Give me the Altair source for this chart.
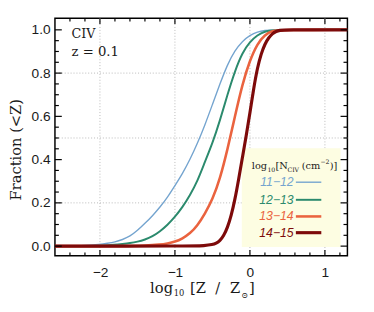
import altair as alt
import pandas as pd

# ---------------- data ----------------
SERIES = ["11−12", "12−13", "13−14", "14−15"]
COLORS = ["#74a4cf", "#2b8a6d", "#ea633f", "#7d0a0a"]
WIDTHS = [1.4, 2.0, 2.6, 3.2]

X_1112 = [-2.6, -2.4, -2.2, -2.0, -1.9, -1.8, -1.7, -1.6, -1.5, -1.4, -1.3, -1.2, -1.1,
          -1.0, -0.9, -0.8, -0.7, -0.6, -0.5, -0.4, -0.3, -0.2, -0.1, 0.0, 0.1, 0.2,
          0.3, 1.3]
Y_1112 = [0.0, 0.0, 0.003, 0.008, 0.013, 0.019, 0.03, 0.045, 0.072, 0.105, 0.14, 0.18,
          0.225, 0.28, 0.335, 0.40, 0.475, 0.56, 0.655, 0.75, 0.84, 0.905, 0.948, 0.975,
          0.991, 0.998, 1.0, 1.0]

X_1213 = [-2.6, -2.2, -2.0, -1.8, -1.7, -1.6, -1.5, -1.4, -1.3, -1.2, -1.1, -1.0, -0.9,
          -0.8, -0.7, -0.6, -0.5, -0.4, -0.3, -0.2, -0.1, 0.0, 0.1, 0.2, 0.3, 1.3]
Y_1213 = [0.0, 0.0, 0.002, 0.006, 0.01, 0.014, 0.02, 0.03, 0.045, 0.068, 0.098, 0.135,
          0.18, 0.235, 0.30, 0.39, 0.475, 0.58, 0.70, 0.81, 0.895, 0.945, 0.976, 0.993,
          1.0, 1.0]

X_1314 = [-2.6, -1.6, -1.4, -1.2, -1.1, -1.0, -0.9, -0.8, -0.7, -0.6, -0.5, -0.4, -0.3,
          -0.2, -0.1, 0.0, 0.1, 0.2, 0.3, 0.4, 1.3]
Y_1314 = [0.0, 0.0, 0.002, 0.007, 0.012, 0.02, 0.035, 0.058, 0.095, 0.15, 0.215, 0.31,
          0.445, 0.60, 0.75, 0.86, 0.937, 0.978, 0.996, 1.0, 1.0]

X_1415 = [-2.6, -0.8, -0.6, -0.5, -0.45, -0.4, -0.35, -0.3, -0.25, -0.2, -0.15, -0.1,
          -0.05, 0.0, 0.05, 0.1, 0.15, 0.2, 0.25, 0.3, 0.35, 0.4, 0.45, 1.3]
Y_1415 = [0.0, 0.0, 0.002, 0.007, 0.013, 0.025, 0.048, 0.085, 0.14, 0.215, 0.31, 0.41,
          0.51, 0.615, 0.73, 0.825, 0.89, 0.935, 0.964, 0.983, 0.993, 0.998, 1.0, 1.0]

XS = [X_1112, X_1213, X_1314, X_1415]
YS = [Y_1112, Y_1213, Y_1314, Y_1415]

X_DOMAIN = [-2.6, 1.3]
Y_DOMAIN = [-0.045, 1.054]
X_TICKS = [-2, -1, 0, 1]
Y_TICKS = [0.0, 0.2, 0.4, 0.6, 0.8, 1.0]
X_MINOR = [-2.4, -2.2, -1.8, -1.6, -1.4, -1.2, -0.8, -0.6, -0.4, -0.2,
           0.2, 0.4, 0.6, 0.8, 1.2]
Y_MINOR = [0.05, 0.1, 0.15, 0.25, 0.3, 0.35, 0.45, 0.5, 0.55, 0.65, 0.7,
           0.75, 0.85, 0.9, 0.95]
X_GRID = [-2, -1, 0, 1]
Y_GRID = [0.2, 0.5, 0.8]

# ---------------- layout ----------------
W, H = 299, 243
SERIF = "DejaVu Serif"
SANS = "Liberation Sans"
INK = "#1a1a1a"

xscale = alt.Scale(domain=X_DOMAIN, nice=False, zero=False)
yscale = alt.Scale(domain=Y_DOMAIN, nice=False, zero=False)

xaxis = alt.Axis(values=X_TICKS, format="d", ticks=False, tickSize=0, domain=False,
                 grid=False, labelFont=SANS, labelFontSize=14, labelColor=INK,
                 labelPadding=10, labelFlush=False, labelOverlap=False, title=None)
yaxis = alt.Axis(values=Y_TICKS, format=".1f", ticks=False, tickSize=0, domain=False,
                 grid=False, labelFont=SANS, labelFontSize=14, labelColor=INK,
                 labelPadding=5, labelFlush=False, labelOverlap=False,
                 title="Fraction (<Z)", titleFont=SERIF, titleFontSize=15,
                 titleFontWeight="normal", titleColor=INK, titleX=-40, titleY=134,
                 titleBaseline="middle", titleAlign="center")

one = pd.DataFrame({"k": [0]})


def X(field="x"):
    return alt.X(f"{field}:Q", scale=xscale, axis=xaxis)


def Y(field="y"):
    return alt.Y(f"{field}:Q", scale=yscale, axis=yaxis)


layers = []

# grid
layers.append(alt.Chart(pd.DataFrame({"x": X_GRID})).mark_rule(
    color="#b8b8b8", strokeWidth=1, strokeDash=[1, 2]).encode(x=X()))
layers.append(alt.Chart(pd.DataFrame({"y": Y_GRID})).mark_rule(
    color="#b8b8b8", strokeWidth=1, strokeDash=[1, 2]).encode(y=Y()))

# legend background
layers.append(alt.Chart(one).mark_rect(color="#fdfde2").encode(
    x=alt.value(191), x2=alt.value(292), y=alt.value(133), y2=alt.value(234)))

# curves
for xs, ys, c, w in zip(XS, YS, COLORS, WIDTHS):
    df = pd.DataFrame({"x": xs, "y": ys})
    layers.append(alt.Chart(df).mark_line(
        color=c, strokeWidth=w, interpolate="basis", clip=True).encode(x=X(), y=Y()))

# ticks (inward, mirrored)
for vals, L in [(X_TICKS, 6), (X_MINOR, 3.5)]:
    d = pd.DataFrame({"x": vals})
    layers.append(alt.Chart(d).mark_rule(color="black", strokeWidth=1.2).encode(
        x=X(), y=alt.value(H), y2=alt.value(H - L)))
    layers.append(alt.Chart(d).mark_rule(color="black", strokeWidth=1.2).encode(
        x=X(), y=alt.value(0), y2=alt.value(L)))
for vals, L in [(Y_TICKS, 7), (Y_MINOR, 4)]:
    d = pd.DataFrame({"y": vals})
    layers.append(alt.Chart(d).mark_rule(color="black", strokeWidth=1.2).encode(
        y=Y(), x=alt.value(0), x2=alt.value(L)))
    layers.append(alt.Chart(d).mark_rule(color="black", strokeWidth=1.2).encode(
        y=Y(), x=alt.value(W), x2=alt.value(W - L)))


def txt(s, x, y, size, font=SERIF, color=INK, align="left", baseline="alphabetic",
        style="normal"):
    return alt.Chart(one).mark_text(
        text=s, font=font, fontSize=size, color=color, align=align,
        baseline=baseline, fontStyle=style).encode(x=alt.value(x), y=alt.value(y))


# panel annotations
layers.append(txt("CIV", 17, 20, 13))
layers.append(txt("z = 0.1", 17, 39, 13.5))

# legend title: log10[N_CIV (cm^-2)]
layers.append(txt("log", 201.3, 154.3, 10))
layers.append(txt("10", 217.2, 157.3, 6.3))
layers.append(txt("[N", 225.5, 154.3, 10))
layers.append(txt("CIV", 237.7, 157.3, 6.3))
layers.append(txt("(cm", 252.2, 154.3, 10))
layers.append(txt("−2", 271.4, 149.0, 6.3))
layers.append(txt(")]", 281.0, 154.3, 10))

# legend entries
ROWS = [167.7, 185.7, 202.7, 219.3]
for name, c, w, ry in zip(SERIES, COLORS, WIDTHS, ROWS):
    layers.append(txt(name, 244, ry, 12.5, font=SANS, color=c, align="right",
                      baseline="middle", style="italic"))
    layers.append(alt.Chart(one).mark_rule(color=c, strokeWidth=w).encode(
        x=alt.value(246.3), x2=alt.value(272.3), y=alt.value(ry)))

# x axis title: log10 [Z / Z_sun]
layers.append(txt("log", 97.3, 281, 15))
layers.append(txt("10", 121.5, 284.5, 8.5))
layers.append(txt("[Z", 138, 281, 15))
layers.append(txt("/", 164, 281, 15))
layers.append(txt("Z", 179, 281, 15))
layers.append(txt("⊙", 190.5, 286.5, 8.5))
layers.append(txt("]", 198.3, 281, 15))

chart = alt.layer(*layers).properties(
    width=W, height=H,
    autosize=alt.AutoSizeParams(type="none"),
    padding={"left": 48, "top": 7, "right": 19, "bottom": 54},
).configure_view(stroke="black", strokeWidth=1.5)

chart.save("out.html", embed_options={"renderer": "svg", "actions": False})
